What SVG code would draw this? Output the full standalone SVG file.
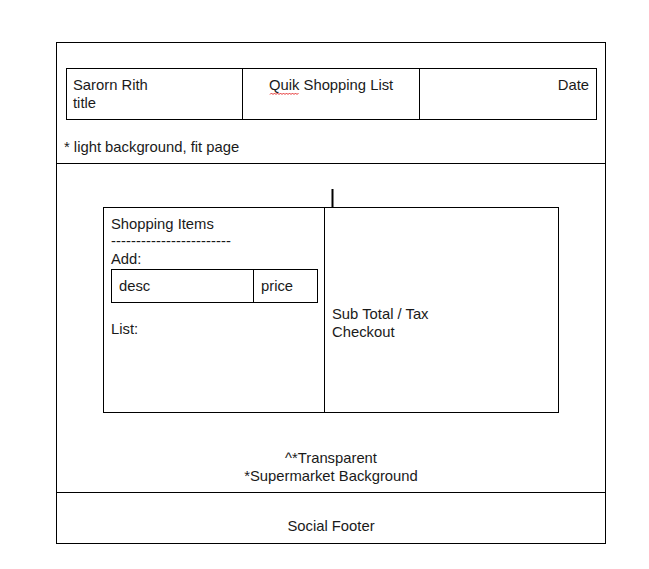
<svg xmlns="http://www.w3.org/2000/svg" width="649" height="569" viewBox="0 0 649 569">
  <style>
    .box { fill: none; stroke: #000; stroke-width: 1; }
    .ln { stroke: #000; stroke-width: 1; }
    text { font-family: "Liberation Sans", Arial, sans-serif; font-size: 14.8px; fill: #1a1a1a; }
    .mid { text-anchor: middle; }
    .end { text-anchor: end; }
  </style>
  <rect width="649" height="569" fill="#fff"/>

  <!-- page frame -->
  <g id="page">
    <rect class="box" x="56.5" y="42.5" width="549" height="501"/>
    <line class="ln" x1="56" y1="163.5" x2="606" y2="163.5"/>
    <line class="ln" x1="56" y1="492.5" x2="606" y2="492.5"/>
  </g>

  <!-- header table -->
  <g id="header">
    <rect class="box" x="66.5" y="68.5" width="530" height="51"/>
    <line class="ln" x1="242.5" y1="68" x2="242.5" y2="120"/>
    <line class="ln" x1="419.5" y1="68" x2="419.5" y2="120"/>
    <text x="73" y="90">Sarorn Rith</text>
    <text x="73" y="108">title</text>
    <text x="269" y="90">Quik Shopping List</text>
    <path d="M270 94.5 l1.5 -1.5 l1.5 1.5 l1.5 -1.5 l1.5 1.5 l1.5 -1.5 l1.5 1.5 l1.5 -1.5 l1.5 1.5 l1.5 -1.5 l1.5 1.5 l1.5 -1.5 l1.5 1.5 l1.5 -1.5 l1.5 1.5 l1.5 -1.5 l1.5 1.5 l1.5 -1.5 l1.5 1.5 l1.5 -1.5" fill="none" stroke="#d00" stroke-width="0.8"/>
    <text class="end" x="589" y="90">Date</text>
  </g>

  <g id="note-top">
    <text x="64" y="152">* light background, fit page</text>
  </g>

  <!-- marker tick -->
  <g id="tick">
    <line x1="332.5" y1="189" x2="332.5" y2="207" stroke="#000" stroke-width="2"/>
  </g>

  <!-- main panel -->
  <g id="items">
    <rect class="box" x="103.5" y="207.5" width="455" height="205"/>
    <line class="ln" x1="324.5" y1="207" x2="324.5" y2="413"/>
    <text x="111" y="229">Shopping Items</text>
    <text x="111" y="246" textLength="120">------------------------</text>
    <text x="111" y="264">Add:</text>
    <text x="111" y="334">List:</text>
  </g>

  <g id="add-form">
    <rect class="box" x="111.5" y="269.5" width="206" height="33"/>
    <line class="ln" x1="253.5" y1="269" x2="253.5" y2="303"/>
    <text x="119" y="291">desc</text>
    <text x="261" y="291">price</text>
  </g>

  <g id="checkout">
    <text x="332" y="319">Sub Total / Tax</text>
    <text x="332" y="337">Checkout</text>
  </g>

  <g id="note-bottom">
    <text class="mid" x="331" y="463">^*Transparent</text>
    <text class="mid" x="331" y="481">*Supermarket Background</text>
  </g>

  <g id="footer">
    <text class="mid" x="331" y="531">Social Footer</text>
  </g>
</svg>
